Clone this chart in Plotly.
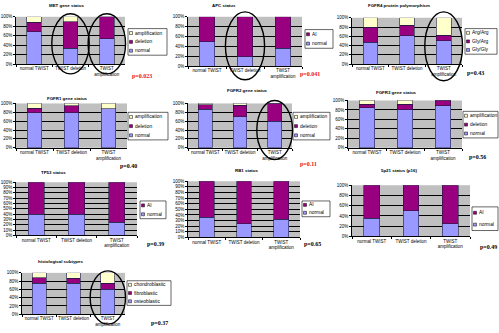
import plotly.graph_objects as go

W, H = 499, 333

CATS = ["normal TWIST", "TWIST deletion", "TWIST<br>amplification"]

NORMAL = "#9999FF"
PURPLE = "#990080"
YELLOW = "#FFFFCC"

# ---------------- data (fractions of cases) ----------------
met_normal = [0.68, 0.33, 0.54]
met_deletion = [0.20, 0.57, 0.46]
met_amplification = [0.12, 0.10, 0.00]

apc_normal = [0.49, 0.19, 0.36]
apc_ai = [0.51, 0.81, 0.64]

fgfr4_glygly = [0.47, 0.61, 0.50]
fgfr4_glyarg = [0.33, 0.23, 0.12]
fgfr4_argarg = [0.20, 0.16, 0.38]

fgfr1_normal = [0.79, 0.79, 0.88]
fgfr1_deletion = [0.10, 0.16, 0.00]
fgfr1_amplification = [0.11, 0.05, 0.12]

fgfr2_normal = [0.87, 0.70, 0.60]
fgfr2_deletion = [0.10, 0.26, 0.40]
fgfr2_amplification = [0.03, 0.04, 0.00]

fgfr3_normal = [0.85, 0.80, 0.89]
fgfr3_deletion = [0.07, 0.12, 0.11]
fgfr3_amplification = [0.08, 0.08, 0.00]

tp53_normal = [0.40, 0.40, 0.25]
tp53_ai = [0.60, 0.60, 0.75]

rb1_normal = [0.36, 0.24, 0.32]
rb1_ai = [0.64, 0.76, 0.68]

p16_normal = [0.35, 0.50, 0.25]
p16_ai = [0.65, 0.50, 0.75]

hist_osteoblastic = [0.75, 0.75, 0.60]
hist_fibroblastic = [0.13, 0.12, 0.15]
hist_chondroblastic = [0.12, 0.13, 0.25]

P_VALUES = ["p=0.023", "p=0.041", "p=0.43", "p=0.40", "p=0.11",
            "p=0.56", "p=0.39", "p=0.65", "p=0.49", "p=0.37"]
P_SIGNIF = [True, True, False, False, True, False, False, False, False, False]

# ---------------- panel layout (pixels) ----------------
panels = [
    dict(title="MET gene status", title_xy=(66, 4),
         series=[("normal", met_normal, NORMAL), ("deletion", met_deletion, PURPLE),
                 ("amplification", met_amplification, YELLOW)],
         rect=(16, 125, 15, 63), dtick=0.2, leg=(128, 167, 27, 54),
         p_xy=(130, 75), ellipses=[(1, 12, 73), (2, 12, 73)]),
    dict(title="APC status", title_xy=(224, 4),
         series=[("normal", apc_normal, NORMAL), ("AI", apc_ai, PURPLE)],
         rect=(188, 302, 15, 65), dtick=0.2, leg=(305, 333, 28, 47),
         p_xy=(298, 73), ellipses=[(1, 10, 79)]),
    dict(title="FGFR4 protein polymorphism", title_xy=(399, 4),
         series=[("Gly/Gly", fgfr4_glygly, NORMAL), ("Gly/Arg", fgfr4_glyarg, PURPLE),
                 ("Arg/Arg", fgfr4_argarg, YELLOW)],
         rect=(352, 462, 16, 63), dtick=0.2, leg=(465, 497, 27, 53),
         p_xy=(465, 72), ellipses=[(2, 10, 80)]),
    dict(title="FGFR1 gene status", title_xy=(67, 98),
         series=[("normal", fgfr1_normal, NORMAL), ("deletion", fgfr1_deletion, PURPLE),
                 ("amplification", fgfr1_amplification, YELLOW)],
         rect=(16, 127, 103, 148), dtick=0.2, leg=(128, 168, 112, 140),
         p_xy=(118, 167), ellipses=[]),
    dict(title="FGFR2 gene status", title_xy=(247, 90),
         series=[("normal", fgfr2_normal, NORMAL), ("deletion", fgfr2_deletion, PURPLE),
                 ("amplification", fgfr2_amplification, YELLOW)],
         rect=(188, 292, 103, 148), dtick=0.2, leg=(293, 330, 112, 140),
         p_xy=(298, 164), ellipses=[(2, 100, 160)]),
    dict(title="FGFR3 gene status", title_xy=(396, 92),
         series=[("normal", fgfr3_normal, NORMAL), ("deletion", fgfr3_deletion, PURPLE),
                 ("amplification", fgfr3_amplification, YELLOW)],
         rect=(348, 462, 100, 148), dtick=0.2, leg=(463, 498, 111, 138),
         p_xy=(467, 157), ellipses=[]),
    dict(title="TP53 status", title_xy=(53, 173),
         series=[("normal", tp53_normal, NORMAL), ("AI", tp53_ai, PURPLE)],
         rect=(16, 137, 183, 237), dtick=0.1, leg=(140, 166, 202, 220),
         p_xy=(145, 246), ellipses=[]),
    dict(title="RB1 status", title_xy=(246, 171),
         series=[("normal", rb1_normal, NORMAL), ("AI", rb1_ai, PURPLE)],
         rect=(188, 300, 182, 239), dtick=0.1, leg=(302, 330, 202, 218),
         p_xy=(302, 246), ellipses=[]),
    dict(title="5p21 status (p16)", title_xy=(399, 171),
         series=[("normal", p16_normal, NORMAL), ("AI", p16_ai, PURPLE)],
         rect=(352, 470, 186, 238), dtick=0.2, leg=(472, 498, 208, 232),
         p_xy=(478, 249), ellipses=[]),
    dict(title="histological subtypes", title_xy=(60, 263),
         series=[("osteoblastic", hist_osteoblastic, NORMAL),
                 ("fibroblastic", hist_fibroblastic, PURPLE),
                 ("chondroblastic", hist_chondroblastic, YELLOW)],
         rect=(22, 125, 275, 317), dtick=0.2, leg=(127, 171, 283, 308),
         p_xy=(149, 326), ellipses=[(2, 273, 327)]),
]

FONT = "Liberation Sans, Arial, sans-serif"
SERIF = "Liberation Serif, Times New Roman, serif"
TICK_SIZE = 4.5
TITLE_SIZE = 4.4
LEG_SIZE = 4.9
P_SIZE = 6


def fx(x):
    return x / W


def fy(y):
    return 1 - y / H


fig = go.Figure()
shapes = []
annotations = []
layout = {}

for i, p in enumerate(panels, start=1):
    sfx = "" if i == 1 else str(i)
    l, r, t, b = p["rect"]
    layout["xaxis" + sfx] = dict(
        domain=[fx(l), fx(r)], anchor="y" + sfx, type="category",
        categoryorder="array", categoryarray=CATS,
        showgrid=False, showline=True, linecolor="#000000", linewidth=0.6,
        ticks="outside", tickson="boundaries", ticklen=2, tickwidth=0.6,
        tickcolor="#000000", tickangle=0,
        tickfont=dict(size=TICK_SIZE, family=FONT, color="#000"),
        fixedrange=True,
    )
    layout["yaxis" + sfx] = dict(
        domain=[fy(b), fy(t)], anchor="x" + sfx, range=[0, 1.0001],
        dtick=p["dtick"], tick0=0, tickformat=".0%",
        showgrid=True, gridcolor="#000000", gridwidth=0.6,
        showline=True, linecolor="#000000", linewidth=0.6,
        ticks="outside", ticklen=2, tickwidth=0.6, tickcolor="#000000",
        tickfont=dict(size=TICK_SIZE, family=FONT, color="#000"),
        zeroline=False, fixedrange=True,
    )
    for name, vals, col in p["series"]:
        fig.add_trace(go.Bar(
            x=CATS, y=vals, name=name, width=0.4,
            marker=dict(color=col, line=dict(color="#1a1a40", width=0.6)),
            xaxis="x" + sfx, yaxis="y" + sfx, showlegend=False,
        ))
    # title
    tx, ty = p["title_xy"]
    annotations.append(dict(
        text="<b>" + p["title"] + "</b>", x=fx(tx), y=fy(ty), xref="paper", yref="paper",
        xanchor="center", yanchor="middle", showarrow=False,
        font=dict(size=TITLE_SIZE, family=FONT, color="#000")))
    # legend box
    lx0, lx1, ly0, ly1 = p["leg"]
    shapes.append(dict(type="rect", xref="paper", yref="paper",
                       x0=fx(lx0), x1=fx(lx1), y0=fy(ly1), y1=fy(ly0),
                       line=dict(color="#000000", width=0.6), fillcolor="#FFFFFF"))
    items = list(reversed(p["series"]))
    n = len(items)
    step = (ly1 - ly0) / n
    for k, (name, vals, col) in enumerate(items):
        cy = ly0 + step * (k + 0.5)
        shapes.append(dict(type="rect", xref="paper", yref="paper",
                           x0=fx(lx0 + 1.5), x1=fx(lx0 + 4.5), y0=fy(cy + 1.5), y1=fy(cy - 1.5),
                           line=dict(color="#000000", width=0.5), fillcolor=col))
        annotations.append(dict(
            text=name, x=fx(lx0 + 5.0), y=fy(cy), xref="paper", yref="paper",
            xanchor="left", yanchor="middle", showarrow=False,
            font=dict(size=LEG_SIZE, family=FONT, color="#000")))
    # p-value
    px_, py_ = p["p_xy"]
    annotations.append(dict(
        text="<b>" + P_VALUES[i - 1] + "</b>", x=fx(px_), y=fy(py_), xref="paper", yref="paper",
        xanchor="left", yanchor="middle", showarrow=False,
        font=dict(size=P_SIZE, family=SERIF, color="#EE1111" if P_SIGNIF[i - 1] else "#000000")))
    # ellipses
    for cat_idx, ey0, ey1 in p["ellipses"]:
        dy0 = (b - ey1) / (b - t)
        dy1 = (b - ey0) / (b - t)
        shapes.append(dict(type="circle", xref="x" + sfx + " domain", yref="y" + sfx + " domain",
                           x0=cat_idx / 3 - 0.005, x1=(cat_idx + 1) / 3 + 0.005, y0=dy0, y1=dy1,
                           line=dict(color="#000000", width=1.4), layer="above"))

fig.update_layout(
    width=W, height=H, margin=dict(l=0, r=0, t=0, b=0),
    barmode="stack", bargap=0.6,
    plot_bgcolor="#C0C0C0", paper_bgcolor="#FFFFFF",
    shapes=shapes, annotations=annotations, showlegend=False,
    font=dict(family=FONT, size=5),
    **layout,
)

fig.write_html("out.html", config={"displayModeBar": False},
               post_script="document.body.style.margin='0px';")
